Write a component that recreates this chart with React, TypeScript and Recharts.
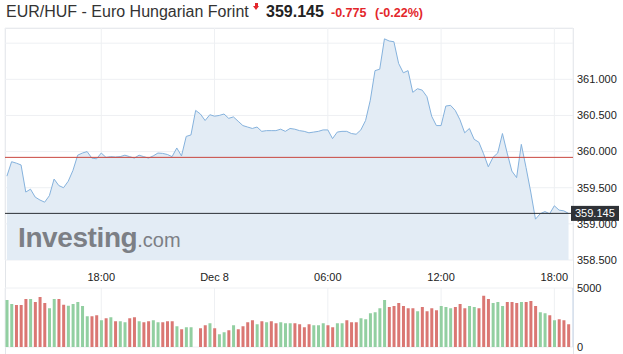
import React from 'react';
import {
  ComposedChart,
  Area,
  Bar,
  Cell,
  XAxis,
  YAxis,
  CartesianGrid,
  ReferenceLine,
} from 'recharts';

// 15 minute steps, index 0 = Dec 7 13:00
const TIME_TICKS = [20, 44, 68, 92, 116];
const TIME_LABELS = ['18:00', 'Dec 8', '06:00', '12:00', '18:00'];
const PRICE_TICKS = [358.5, 359, 359.5, 360, 360.5, 361, 361.5];
const VOLUME_TICKS = [0, 5000];
const LAST_PRICE = 359.145;
const PREV_CLOSE = 359.92;
const CHANGE = '-0.775';
const CHANGE_PCT = '(-0.22%)';

const PRICE = [
  359.66, 359.86, 359.84, 359.815, 359.44, 359.48, 359.37, 359.33, 359.3, 359.39,
  359.62, 359.53, 359.5, 359.59, 359.74, 359.95, 359.98, 360.0, 359.91, 359.9,
  359.98, 359.92, 359.93, 359.925, 359.93, 359.95, 359.93, 359.91, 359.95, 359.93,
  359.91, 359.94, 359.98, 359.975, 359.96, 359.93, 360.05, 359.94, 360.21, 360.23,
  360.57, 360.52, 360.43, 360.51, 360.49, 360.5, 360.52, 360.46, 360.48, 360.42,
  360.36, 360.34, 360.32, 360.34, 360.28, 360.29, 360.29, 360.29, 360.31, 360.28,
  360.32, 360.31, 360.29, 360.28, 360.26, 360.27, 360.28, 360.3, 360.3, 360.18,
  360.27, 360.28, 360.28, 360.25, 360.24, 360.3, 360.43, 360.71, 361.12, 361.14,
  361.56, 361.53, 361.52, 361.22, 361.09, 361.12, 360.82, 360.87, 360.85, 360.76,
  360.49, 360.36, 360.36, 360.63, 360.64, 360.57, 360.44, 360.26, 360.32, 360.17,
  360.13, 359.97, 359.79, 359.92, 359.98, 360.25, 359.98, 359.73, 359.64, 360.1,
  359.78, 359.44, 359.065, 359.14, 359.17, 359.14, 359.25, 359.19, 359.18, 359.145,
];

const VOLUME = [
  3980, 3640, 3550, 3550, 4060, 4060, 3810, 4230, 3720, 3290,
  4060, 4060, 3580, 3490, 3640, 3810, 3470, 2610, 2610, 2700,
  2270, 2440, 2530, 2190, 2190, 2100, 2440, 2530, 2190, 2100,
  2190, 2270, 2100, 2100, 2190, 2190, 1760, 1510, 1680, 1680,
  0, 1590, 1850, 2020, 1590, 1080, 1250, 1420, 1850, 1510,
  1760, 2100, 2270, 1930, 2190, 2100, 2190, 2020, 2100, 2020,
  2020, 2020, 1930, 1680, 1930, 1850, 1850, 2020, 1850, 1680,
  2020, 2020, 2270, 2100, 2100, 2440, 2360, 2870, 2950, 3290,
  3980, 3380, 3470, 3720, 3470, 3290, 3290, 3040, 3380, 3040,
  3290, 3120, 3470, 3380, 3290, 3380, 3640, 3290, 3470, 3380,
  3290, 4350, 4060, 3720, 3810, 3470, 3810, 3810, 3720, 3810,
  3810, 3890, 3470, 2950, 2870, 2700, 2270, 2360, 2270, 1930,
];

// g = up bar, r = down bar
const DIRECTION = (
  'ggrrrgrrrg' + 'grrgggggrr' + 'grgrggrrgr' + 'rggrrrgrgg' +
  '-rrgrggrgr' + 'rrrgrgrrgg' + 'grrrrgggrr' + 'ggrrrggggg' +
  'grrrrrrgrr' + 'rrgggrrrgg' + 'rrrgggrrrg' + 'rrrggrgrrr'
).split('');

const data = PRICE.map((price, i) => ({
  t: i,
  price,
  volume: VOLUME[i],
  dir: DIRECTION[i],
}));

const X_DOMAIN = [-0.4, 119.95];
const GRID = '#eef0f3';
const FONT = 'Arial, "Liberation Sans", sans-serif';
const RED = '#e3262b';

const LastPriceLabel = ({ viewBox }: any) => {
  const y = viewBox.y;
  return (
    <g>
      <rect x={571} y={y - 7.5} width={48} height={15} fill="#2f3237" />
      <text x={575} y={y + 4} fill="#ffffff" fontSize={11} fontFamily={FONT}>
        {LAST_PRICE.toFixed(3)}
      </text>
    </g>
  );
};

const App: React.FC = () => {
  return (
    <div
      style={{
        position: 'absolute',
        left: 0,
        top: 0,
        width: 623,
        height: 354,
        background: '#ffffff',
        fontFamily: FONT,
        overflow: 'hidden',
      }}
    >
      {/* header */}
      <div style={{ position: 'absolute', left: 6, top: 2, fontSize: 16, lineHeight: '20px', color: '#333', whiteSpace: 'nowrap' }}>
        EUR/HUF - Euro Hungarian Forint
      </div>
      <div style={{ position: 'absolute', left: 255, top: 3, width: 3, height: 3, background: RED }} />
      <div
        style={{
          position: 'absolute',
          left: 253,
          top: 6,
          width: 0,
          height: 0,
          borderLeft: '3.5px solid transparent',
          borderRight: '3.5px solid transparent',
          borderTop: `4px solid ${RED}`,
        }}
      />
      <div style={{ position: 'absolute', left: 266, top: 2, fontSize: 16, lineHeight: '20px', fontWeight: 'bold', color: '#222' }}>
        {LAST_PRICE.toFixed(3)}
      </div>
      <div style={{ position: 'absolute', left: 331, top: 4, fontSize: 12.5, lineHeight: '18px', fontWeight: 'bold', color: RED }}>
        {CHANGE}
      </div>
      <div style={{ position: 'absolute', left: 375, top: 4, fontSize: 12.5, lineHeight: '18px', fontWeight: 'bold', color: RED }}>
        {CHANGE_PCT}
      </div>

      {/* frame */}
      <div
        style={{
          position: 'absolute',
          left: 5,
          top: 28,
          width: 567,
          height: 330,
          borderLeft: '1px solid #e2e5e9',
          borderRight: '1px solid #e2e5e9',
          borderTop: '1px solid #e2e5e9',
        }}
      />

      {/* volume */}
      <div style={{ position: 'absolute', left: 0, top: 261 }}>
        <ComposedChart width={623} height={93} data={data} margin={{ top: 0, right: 0, left: 5, bottom: 7 }}>
          <CartesianGrid stroke={GRID} />
          <XAxis
            dataKey="t"
            type="number"
            orientation="top"
            height={27}
            domain={X_DOMAIN}
            ticks={TIME_TICKS}
            interval={0}
            allowDataOverflow
            tickLine={false}
            axisLine={false}
            tickSize={4}
            tickMargin={3}
            tick={{ fill: '#222', fontSize: 11, fontFamily: FONT }}
            tickFormatter={(v: number) => TIME_LABELS[TIME_TICKS.indexOf(v)]}
          />
          <YAxis
            orientation="right"
            width={50}
            domain={[0, 5000]}
            ticks={VOLUME_TICKS}
            interval={0}
            tickLine={false}
            axisLine={{ stroke: '#c9d8ea' }}
            tickSize={2}
            tickMargin={2}
            tick={{ fill: '#222', fontSize: 11, fontFamily: FONT, textAnchor: 'start' }}
          />
          <Bar dataKey="volume" barSize={3} isAnimationActive={false}>
            {data.map((d) => (
              <Cell key={d.t} fill={d.dir === 'g' ? '#92cfa1' : '#da7773'} />
            ))}
          </Bar>
        </ComposedChart>
      </div>

      {/* price */}
      <div style={{ position: 'absolute', left: 0, top: 0 }}>
        <ComposedChart width={623} height={268} data={data} margin={{ top: 28, right: 0, left: 5, bottom: 8 }}>
          <CartesianGrid stroke={GRID} />
          <XAxis dataKey="t" type="number" domain={X_DOMAIN} ticks={TIME_TICKS} hide allowDataOverflow />
          <YAxis
            orientation="right"
            width={50}
            domain={[358.5, 361.71]}
            ticks={PRICE_TICKS}
            interval={0}
            allowDataOverflow
            tickLine={false}
            axisLine={false}
            tickSize={2}
            tickMargin={2}
            tick={{ fill: '#222', fontSize: 11, fontFamily: FONT, textAnchor: 'start' }}
            tickFormatter={(v: number) => (v > 361.2 ? '' : v.toFixed(3))}
          />
          <Area
            type="linear"
            dataKey="price"
            stroke="#85b2dd"
            strokeWidth={1}
            fill="#e3ecf5"
            fillOpacity={1}
            isAnimationActive={false}
            dot={false}
            activeDot={false}
          />
          <ReferenceLine y={PREV_CLOSE} stroke="#c9473f" strokeWidth={1} />
          <ReferenceLine y={LAST_PRICE} stroke="#2b2f35" strokeWidth={1} label={<LastPriceLabel />} />
        </ComposedChart>
      </div>

      {/* watermark */}
      <div style={{ position: 'absolute', left: 18, top: 224, lineHeight: '28px', color: '#7c7f85', whiteSpace: 'nowrap' }}>
        <span style={{ fontSize: 28, fontWeight: 'bold', letterSpacing: -0.4 }}>Investing</span>
        <span style={{ fontSize: 20 }}>.com</span>
      </div>
    </div>
  );
};

export default App;
